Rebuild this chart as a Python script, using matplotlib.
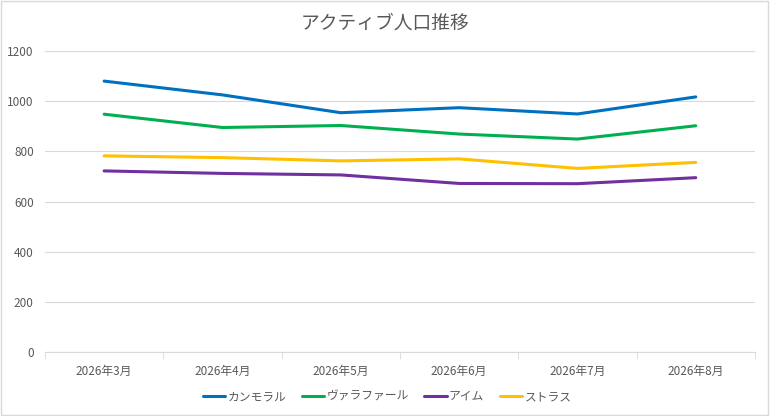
import matplotlib.pyplot as plt
from matplotlib.ticker import FixedLocator

plt.rcParams['font.family'] = ['Noto Sans CJK JP', 'DejaVu Sans']

# データ
months = ['2026年3月', '2026年4月', '2026年5月', '2026年6月', '2026年7月', '2026年8月']
kanmoral = [1080, 1025, 954, 974, 949, 1017]
varafal = [948, 895, 903, 869, 849, 902]
aim = [722, 712, 706, 672, 671, 695]
strass = [782, 775, 762, 770, 732, 756]

series = [
    ('カンモラル', kanmoral, '#0070C0'),
    ('ヴァラファール', varafal, '#00B050'),
    ('アイム', aim, '#7030A0'),
    ('ストラス', strass, '#FFC000'),
]

fig = plt.figure(figsize=(7.7, 4.16), dpi=100)
ax = fig.add_axes([0.0584, 0.1538, 0.922, 0.7236])

x = list(range(len(months)))
for name, vals, col in series:
    ax.plot(x, vals, color=col, linewidth=2.2, label=name, solid_capstyle='round')

ax.set_xlim(-0.5, len(months) - 0.5)
ax.set_ylim(0, 1200)
ax.set_yticks(range(0, 1201, 200))
ax.set_xticks(x)
ax.set_xticklabels(months)
ax.xaxis.set_minor_locator(FixedLocator([i - 0.5 for i in range(len(months) + 1)]))

ax.grid(axis='y', color='#d9d9d9', linewidth=0.8)
ax.set_axisbelow(True)
for side in ['top', 'right', 'left']:
    ax.spines[side].set_visible(False)
ax.spines['bottom'].set_color('#d9d9d9')
ax.tick_params(axis='x', which='major', length=0, pad=9, labelsize=8.5, labelcolor='#595959')
ax.tick_params(axis='x', which='minor', length=5, color='#d9d9d9')
ax.tick_params(axis='y', length=0, pad=8, labelsize=8.5, labelcolor='#595959')

fig.text(0.5, 0.945, 'アクティブ人口推移', ha='center', va='center', fontsize=13.5, color='#595959')

ax.legend(loc='center', bbox_to_anchor=(0.482, -0.148), ncol=4, frameon=False,
          fontsize=8.5, labelcolor='#595959', handlelength=1.9, handletextpad=0.2,
          columnspacing=1.3)

# 外枠
fig.patches.append(plt.Rectangle((0.001, 0.002), 0.997, 0.995, transform=fig.transFigure,
                                 fill=False, edgecolor='#d9d9d9', linewidth=1))

fig.savefig('out.png', dpi=100)
